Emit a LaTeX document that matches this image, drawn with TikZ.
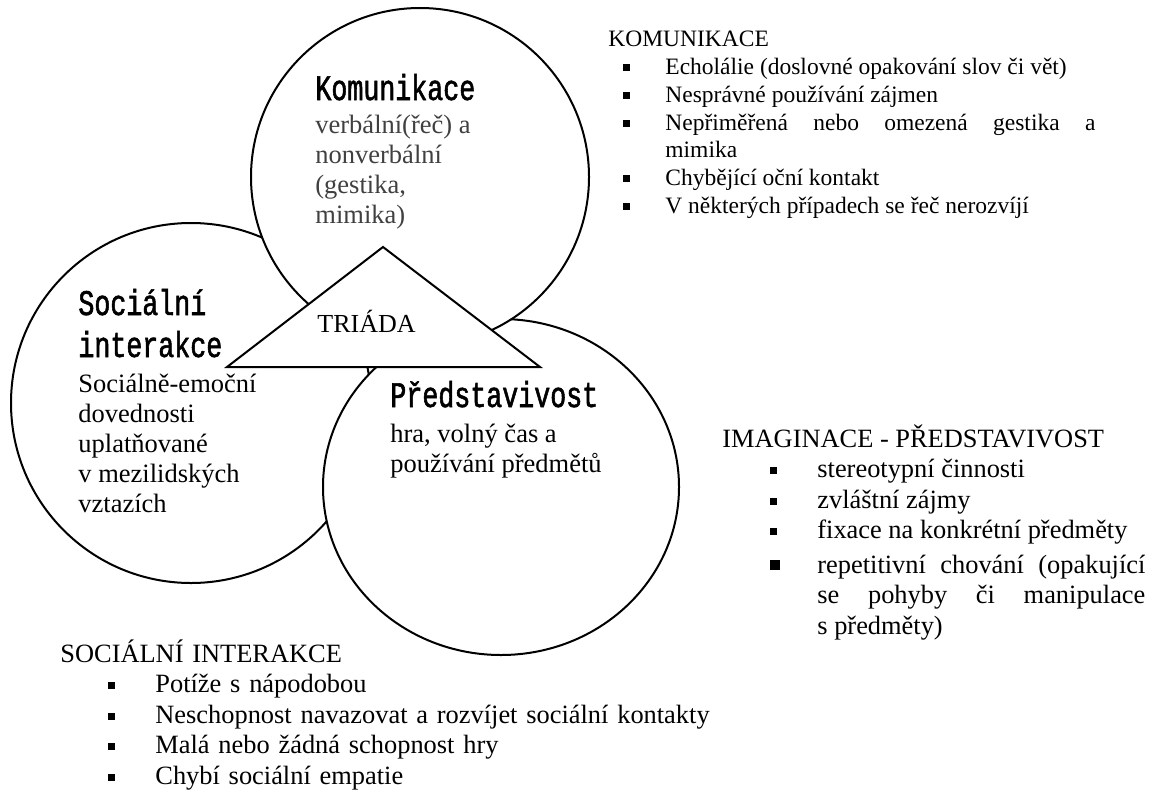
\documentclass[tikz,border=0pt]{standalone}
\usepackage{fontspec}
\setmainfont{Liberation Serif}
\newfontfamily\headfont[FakeStretch=0.74,FakeBold=1.5]{Liberation Mono}
\usetikzlibrary{positioning}
\definecolor{TextGray}{RGB}{64,64,64}
\newcommand{\sqb}{\rule[1.75pt]{3.5pt}{3.5pt}}
\newcommand{\sqbig}{\rule[1.5pt]{5pt}{5pt}}
\newcommand{\bitem}[4][\sqb]{\par\noindent\hangindent=#3\hangafter=1\makebox[#3][l]{\hspace{#2}#1}#4}

\tikzset{
  bubble/.style={draw, fill=white, line width=1pt},
  headtext/.style={inner sep=0pt, anchor=base west, align=left, font=\headfont\fontsize{18}{21}\selectfont},
  bodytext/.style={inner sep=0pt, anchor=base west, align=left, font=\fontsize{13.25}{15}\selectfont},
  listtext/.style={inner sep=0pt, anchor=base west, align=justify, font=\fontsize{13.2}{15.25}\selectfont},
}

\begin{document}
\begin{tikzpicture}[x=0.5pt, y=-0.5pt]
  \fill[white] (0,0) rectangle (1154,792);
  \useasboundingbox (0,0) rectangle (1154,792);

  % circles, back to front
  \filldraw[bubble] (191,403) circle [radius=180];
  \filldraw[bubble] (501,487) ellipse [x radius=178, y radius=168];
  \filldraw[bubble] (420,177) circle [radius=169];

  % triada
  \coordinate (apex) at (383,247);
  \coordinate (baseL) at (227,367);
  \coordinate (baseR) at (540,367);
  \filldraw[bubble, line join=miter] (apex) -- (baseL) -- (baseR) -- cycle;
  \node[bodytext, font=\fontsize{13}{15}\selectfont] (triada) at (317,332) {TRIÁDA};

  % texts in the circles (multi-line nodes sit on their last line)
  \node[headtext] (komH) at (315,100) {Komunikace};
  \node[bodytext, text=TextGray] (komB) at (315,223)
    {verbální(řeč) a\\nonverbální\\(gestika,\\mimika)};
  \node[headtext] (socH) at (78,357) {Sociální\\interakce};
  \node[bodytext] (socB) at (78,512)
    {Sociálně-emoční\\dovednosti\\uplatňované\\v mezilidských\\vztazích};
  \node[headtext] (predH) at (390,407) {Představivost};
  \node[bodytext] (predB) at (390,472) {hra, volný čas a\\používání předmětů};

  % lists
  \node[listtext, text width=243.5pt, font=\fontsize{11.75}{13.85}\selectfont] (komL) at (608,47) {%
    KOMUNIKACE
    \bitem{7.5pt}{28.5pt}{Echolálie (doslovné opakování slov či vět)}
    \bitem{7.5pt}{28.5pt}{Nesprávné používání zájmen}
    \bitem{7.5pt}{28.5pt}{Nepřiměřená nebo omezená gestika a\linebreak mimika}
    \bitem{7.5pt}{28.5pt}{Chybějící oční kontakt}
    \bitem{7.5pt}{28.5pt}{V některých případech se řeč nerozvíjí}\par};
  \node[listtext, text width=211.5pt] (imgL) at (722,447) {%
    IMAGINACE - PŘEDSTAVIVOST
    \bitem{24pt}{47.5pt}{stereotypní činnosti}
    \bitem{24pt}{47.5pt}{zvláštní zájmy}
    \bitem{24pt}{47.5pt}{fixace na konkrétní předměty}\par\vspace{2pt}
    \bitem[\sqbig]{24pt}{47.5pt}{repetitivní chování (opakující\linebreak se pohyby či manipulace\linebreak s~předměty)}\par};
  \node[listtext, text width=400pt, align=left] (socL) at (60,662) {%
    SOCIÁLNÍ INTERAKCE
    \bitem{24pt}{47.5pt}{Potíže s~nápodobou}
    \bitem{24pt}{47.5pt}{Neschopnost navazovat a rozvíjet sociální kontakty}
    \bitem{24pt}{47.5pt}{Malá nebo žádná schopnost hry}
    \bitem{24pt}{47.5pt}{Chybí sociální empatie}\par};
\end{tikzpicture}
\end{document}
